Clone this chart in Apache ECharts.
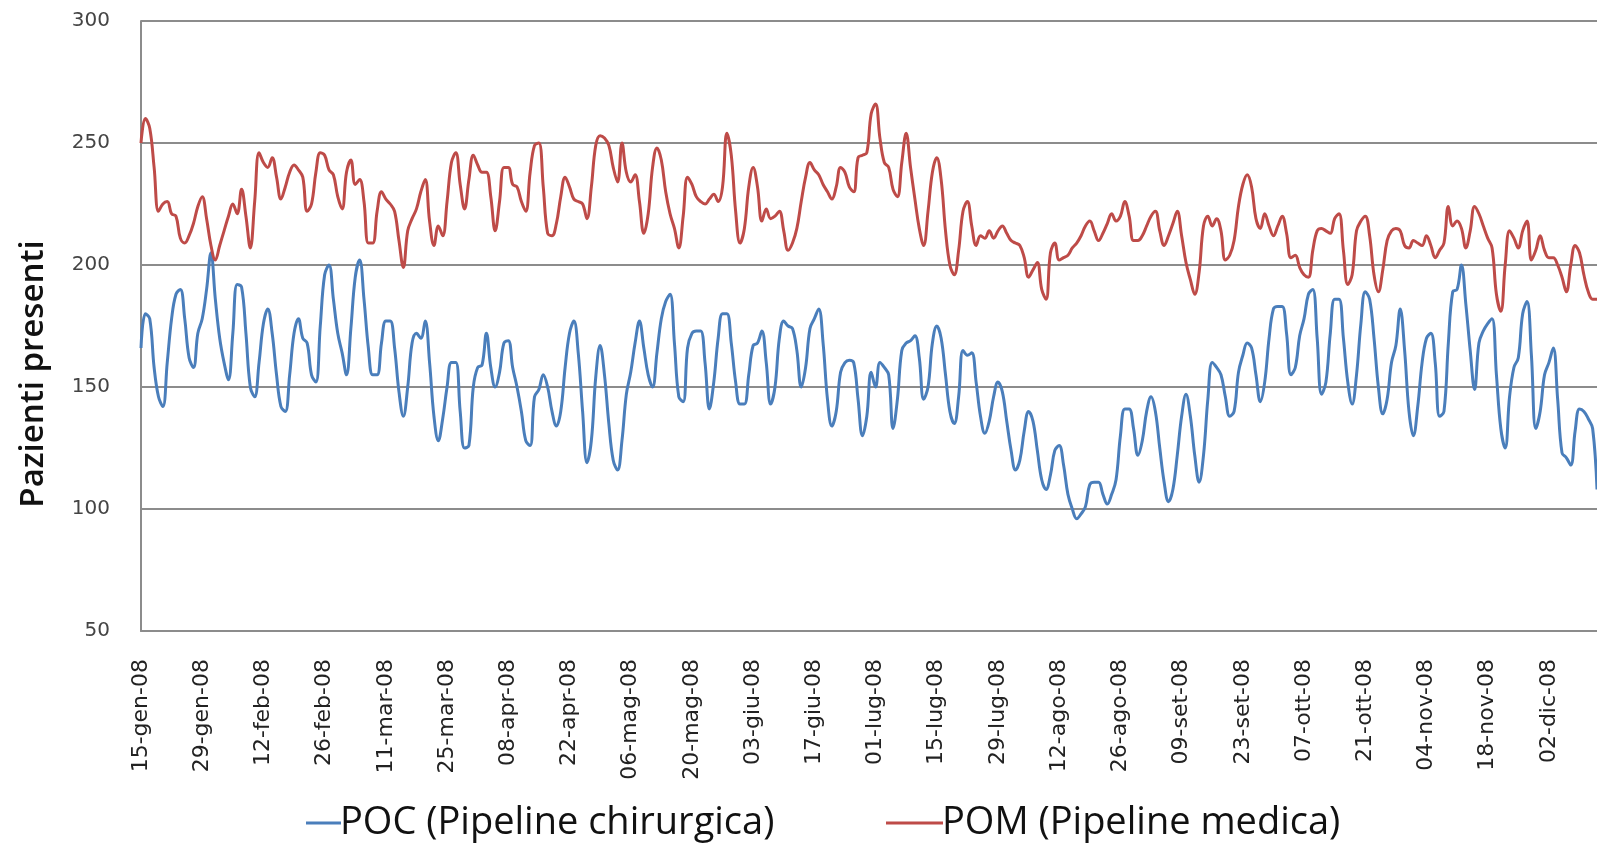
<!DOCTYPE html>
<html>
<head>
<meta charset="utf-8">
<title>Pazienti presenti 2008</title>
<script src="https://cdn.jsdelivr.net/npm/echarts@6/dist/echarts.min.js"></script>
<style>
  html, body { margin: 0; padding: 0; background: #ffffff; }
  #chart { width: 1597px; height: 843px; }
</style>
</head>
<body>
<div id="chart"></div>
<script>
// Daily series start on 15 January 2008
const START_DATE = [2008, 0, 15];
const MONTHS_IT = ['gen', 'feb', 'mar', 'apr', 'mag', 'giu', 'lug', 'ago', 'set', 'ott', 'nov', 'dic'];
const Y_TICKS = [50, 100, 150, 200, 250, 300];

const SERIES_NAMES = ['POC (Pipeline chirurgica)', 'POM (Pipeline medica)'];
const SERIES_COLORS = ['#4a7ebb', '#be4b48'];

// POC – surgical pipeline, patients present per day
const poc = [
  166,180,178,158,146,142,160,178,188,190,178,162,158,172,
  178,190,205,186,170,160,153,172,192,191,172,150,146,160,
  176,182,172,155,142,140,155,172,178,170,168,155,152,175,
  196,200,186,172,164,155,174,195,202,186,166,155,155,168,
  177,177,166,148,138,150,168,172,170,177,160,138,128,137,
  150,160,160,140,125,126,150,158,159,172,158,150,156,168,
  169,158,150,140,128,126,146,149,155,150,140,134,140,158,
  172,177,164,140,119,128,154,167,155,135,120,116,128,147,
  156,168,177,166,155,150,164,178,185,188,168,146,144,166,
  172,173,173,160,141,152,170,180,180,168,152,143,143,155,
  167,168,173,160,143,150,170,177,175,174,165,150,158,174,
  178,182,168,145,134,140,156,160,161,160,145,130,138,156,
  150,160,158,155,133,145,165,168,169,171,162,145,150,168,
  175,170,155,140,135,146,165,163,164,152,138,131,136,146,
  152,148,136,124,116,120,132,140,136,124,112,108,114,124,
  126,118,106,100,96,98,101,110,111,111,106,102,106,112,
  130,141,141,133,122,128,140,146,140,125,111,103,108,122,
  138,147,138,122,111,122,145,160,158,155,146,138,140,156,
  163,168,166,155,144,152,170,182,183,183,172,155,158,171,
  178,188,190,170,147,152,172,186,186,170,152,143,155,176,
  189,186,170,150,139,145,160,167,182,165,140,130,142,160,
  170,172,160,138,140,168,189,190,200,184,165,149,168,173,
  176,178,155,133,125,146,158,162,180,185,163,133,140,155,
  160,166,145,123,121,118,132,141,140,137,133,108
];

// POM – medical pipeline, patients present per day
const pom = [
  250,260,256,240,222,225,226,221,220,211,209,212,217,224,
  228,219,208,202,208,214,220,225,221,231,220,207,226,246,
  242,240,244,236,227,232,238,241,239,236,222,225,238,246,
  245,239,237,228,223,238,243,233,235,226,209,209,222,230,
  227,225,222,210,199,214,219,223,230,235,218,208,216,212,
  226,242,246,233,223,235,245,241,238,238,228,214,226,240,
  240,233,232,226,222,238,249,250,232,213,212,217,228,236,
  232,227,226,225,219,232,249,253,252,249,240,234,250,238,
  234,237,226,213,221,240,248,243,230,221,215,207,220,236,
  233,228,226,225,227,229,226,232,254,245,222,209,215,232,
  240,232,218,223,219,220,222,214,206,209,215,226,236,242,
  239,237,233,230,227,232,240,238,232,230,244,245,246,262,
  266,252,242,240,231,228,242,254,240,227,215,208,222,238,
  244,235,214,200,196,206,222,226,216,208,212,211,214,211,
  214,216,213,210,209,208,203,195,198,201,190,186,205,209,
  202,203,204,207,209,212,216,218,214,210,213,217,221,218,
  220,226,220,210,210,212,216,220,222,214,208,212,217,222,
  212,201,194,188,197,216,220,216,219,214,202,204,210,224,
  233,237,232,219,215,221,216,212,216,220,213,203,204,199,
  196,195,206,214,215,214,213,219,221,206,192,196,214,218,
  220,212,196,189,198,210,214,215,214,208,207,210,209,208,
  212,208,203,206,209,224,216,218,215,207,214,224,221,216,
  211,207,188,181,200,214,211,207,214,218,202,206,212,206,
  203,203,200,195,189,200,208,205,196,189,186,186
];

// Day-by-day category labels, e.g. "15-gen-08"
const categories = poc.map(function (_, i) {
  const d = new Date(START_DATE[0], START_DATE[1], START_DATE[2] + i);
  const dd = String(d.getDate()).padStart(2, '0');
  const yy = String(d.getFullYear() % 100).padStart(2, '0');
  return dd + '-' + MONTHS_IT[d.getMonth()] + '-' + yy;
});

const chart = echarts.init(document.getElementById('chart'), null, { renderer: 'canvas' });

const GRID_LEFT = 141, GRID_TOP = 21, GRID_BOTTOM = 212;

const legendText = { fontFamily: 'Open Sans', fontSize: 38, color: '#111', padding: [0, 0, 0, -6] };

chart.setOption({
  animation: false,
  backgroundColor: '#ffffff',
  color: SERIES_COLORS,
  grid: { left: GRID_LEFT, right: 0, top: GRID_TOP, bottom: GRID_BOTTOM, containLabel: false },
  legend: [
    {
      data: [SERIES_NAMES[0]],
      left: 301,
      top: 799,
      icon: 'rect',
      itemWidth: 35,
      itemHeight: 3,
      textStyle: legendText
    },
    {
      data: [SERIES_NAMES[1]],
      left: 881,
      top: 799,
      icon: 'rect',
      itemWidth: 57,
      itemHeight: 3,
      textStyle: legendText
    }
  ],
  xAxis: {
    type: 'category',
    data: categories,
    boundaryGap: false,
    axisLine: { show: true, lineStyle: { color: '#8c8c8c', width: 2 } },
    axisTick: { show: false },
    axisLabel: {
      interval: 13,
      rotate: 90,
      margin: 28,
      fontFamily: 'DejaVu Sans',
      fontSize: 22,
      color: '#222'
    },
    splitLine: { show: false }
  },
  yAxis: {
    type: 'value',
    min: Y_TICKS[0],
    max: Y_TICKS[Y_TICKS.length - 1],
    interval: Y_TICKS[1] - Y_TICKS[0],
    axisLine: { show: true, lineStyle: { color: '#8c8c8c', width: 2 } },
    axisTick: { show: false },
    axisLabel: {
      margin: 31,
      fontFamily: 'DejaVu Sans',
      fontSize: 20,
      color: '#444'
    },
    splitLine: { show: true, lineStyle: { color: '#8c8c8c', width: 2 } }
  },
  graphic: [{
    type: 'text',
    x: 34,
    y: 374,
    rotation: Math.PI / 2,
    style: {
      text: 'Pazienti presenti',
      fontFamily: 'Open Sans',
      fontWeight: 600,
      fontSize: 33,
      fill: '#111',
      textAlign: 'center',
      textVerticalAlign: 'middle'
    }
  }],
  series: [
    {
      name: SERIES_NAMES[0],
      type: 'line',
      data: poc,
      smooth: 0.4,
      symbol: 'none',
      lineStyle: { width: 3, color: SERIES_COLORS[0] }
    },
    {
      name: SERIES_NAMES[1],
      type: 'line',
      data: pom,
      smooth: 0.4,
      symbol: 'none',
      lineStyle: { width: 3, color: SERIES_COLORS[1] }
    }
  ]
});
</script>
</body>
</html>
